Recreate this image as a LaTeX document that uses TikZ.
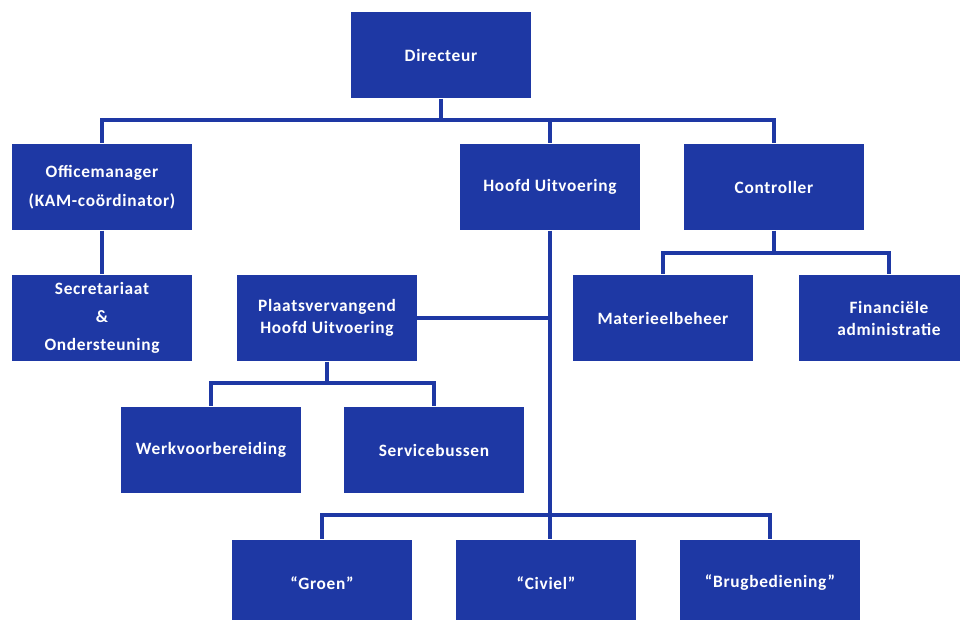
\documentclass[tikz,border=0pt]{standalone}
\usepackage{fontspec}
\setmainfont{Carlito}
\newfontfamily\boxfont{Carlito}[LetterSpace=4]
\definecolor{orgblue}{RGB}{30,56,164}
\begin{document}
\begin{tikzpicture}[x=0.75pt,y=-0.75pt,
  box/.style={rectangle,fill=orgblue,text=white,minimum width=135pt,minimum height=65pt,inner sep=0pt,align=center,font=\boxfont\fontsize{13}{16.5}\selectfont\bfseries},
  conn/.style={draw=orgblue,line width=3pt}]
\path[use as bounding box,clip] (0,0) rectangle (960,620);
\fill[white] (0,0) rectangle (960,620);
\node[box] (dir) at (441,55) {Directeur};
\node[box,font=\boxfont\fontsize{13}{22}\selectfont\bfseries] (off) at (102,187) {Officemanager\\(KAM-coördinator)};
\node[box] (hoofd) at (550,187) {Hoofd Uitvoering};
\node[box] (ctrl) at (774,187) {Controller};
\node[box,font=\boxfont\fontsize{13}{21}\selectfont\bfseries] (sec) at (102,318) {Secretariaat\\\&\\Ondersteuning};
\node[box] (plaats) at (327,318) {Plaatsvervangend\\Hoofd Uitvoering};
\node[box] (mat) at (663,318) {Materieelbeheer};
\node[box] (fin) at (889,318) {Financiële\\administratie};
\node[box] (werk) at (211,450) {Werkvoorbereiding};
\node[box] (serv) at (434,450) {Servicebussen};
\node[box] (groen) at (322,583) {“Groen”};
\node[box] (civiel) at (546,583) {“Civiel”};
\node[box] (brug) at (770,583) {“Brugbediening”};
\coordinate (b1) at (441,120);
\coordinate (b2) at (774,253);
\coordinate (b3) at (327,383);
\coordinate (b4) at (550,515);
\draw[conn] (dir.south) -- (b1);
\draw[conn] (b1) -| (off.north);
\draw[conn] (b1) -| (hoofd.north);
\draw[conn] (b1) -| (ctrl.north);
\draw[conn] (off.south) -- (sec.north);
\draw[conn] (ctrl.south) -- (b2);
\draw[conn] (b2) -| (mat.north);
\draw[conn] (b2) -| (fin.north);
\draw[conn] (hoofd.south) -- (b4);
\draw[conn] (plaats.east) -- (plaats.east -| hoofd.south);
\draw[conn] (plaats.south) -- (b3);
\draw[conn] (b3) -| (werk.north);
\draw[conn] (b3) -| (serv.north);
\draw[conn] (b4) -| (groen.north);
\draw[conn] (b4) -| (brug.north);
\draw[conn] (b4) -- (b4 |- civiel.north);
\end{tikzpicture}
\end{document}
